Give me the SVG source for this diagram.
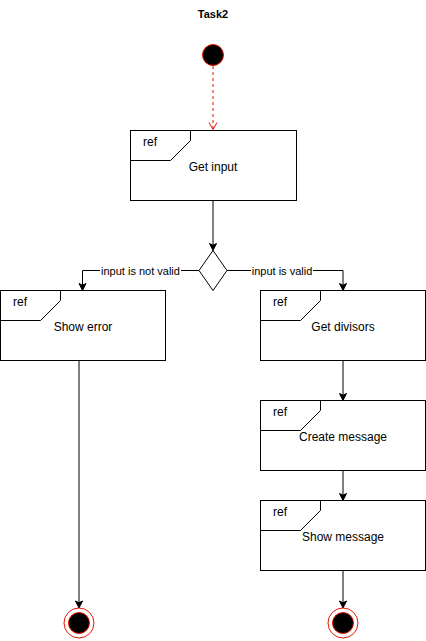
<svg xmlns="http://www.w3.org/2000/svg" width="426" height="641" viewBox="0 0 426 641">
  <style>
    .box { fill: #ffffff; stroke: #000000; stroke-width: 1; }
    .tab { fill: none; stroke: #000000; stroke-width: 1; }
    .edge { fill: none; stroke: #000000; stroke-width: 1; }
    .lbl { font-family: "Liberation Sans", Arial, sans-serif; font-size: 12px; fill: #000000; }
    .elbl { font-family: "Liberation Sans", Arial, sans-serif; font-size: 11px; fill: #000000; }
    .title { font-family: "Liberation Sans", Arial, sans-serif; font-size: 11px; font-weight: bold; fill: #000000; }
  </style>
  <defs>
    <marker id="arrow" markerUnits="userSpaceOnUse" markerWidth="20" markerHeight="20" refX="0" refY="0" orient="auto" viewBox="-10 -10 20 20" overflow="visible">
      <path d="M0,0 L-7,-3.5 L-5.3,0 L-7,3.5 Z" fill="#000000" stroke="#000000" stroke-width="1" stroke-linejoin="miter"/>
    </marker>
    <marker id="open" markerUnits="userSpaceOnUse" markerWidth="20" markerHeight="20" refX="0" refY="0" orient="auto" viewBox="-10 -10 20 20" overflow="visible">
      <path d="M-7,-4 L0,0 L-7,4" fill="none" stroke="#e51400" stroke-width="1"/>
    </marker>
  </defs>

  <rect width="426" height="641" fill="#ffffff"/>

  <text class="title" x="213" y="18" text-anchor="middle">Task2</text>

  <!-- connectors -->
  <g id="edges">
    <path class="edge" d="M213,66 V129.5" stroke="#e51400" style="stroke:#e51400" stroke-dasharray="3,3" marker-end="url(#open)"/>
    <path class="edge" d="M213,200.5 V250.5" marker-end="url(#arrow)"/>
    <path class="edge" d="M199,270.5 H82.5 V290.5" marker-end="url(#arrow)"/>
    <path class="edge" d="M227,270.5 H343 V290.5" marker-end="url(#arrow)"/>
    <path class="edge" d="M343,360.5 V400.5" marker-end="url(#arrow)"/>
    <path class="edge" d="M343,470.5 V500.5" marker-end="url(#arrow)"/>
    <path class="edge" d="M343,570.5 V608" marker-end="url(#arrow)"/>
    <path class="edge" d="M79,360.5 V608" marker-end="url(#arrow)"/>
    <rect x="100" y="263" width="81" height="13" fill="#ffffff"/>
    <text class="elbl" x="140.5" y="275" text-anchor="middle">input is not valid</text>
    <rect x="251" y="263" width="62" height="13" fill="#ffffff"/>
    <text class="elbl" x="282" y="275" text-anchor="middle">input is valid</text>
  </g>

  <!-- start -->
  <g id="start">
    <circle cx="213" cy="55" r="10.5" fill="#000000" stroke="#e51400" stroke-width="1"/>
  </g>

  <g id="get-input">
    <rect class="box" x="130.5" y="130.5" width="166" height="70"/>
    <path class="tab" d="M130.5,160.5 H170.5 L190.5,140.5 V130.5"/>
    <text class="lbl" x="143" y="146">ref</text>
    <text class="lbl" x="213" y="170.5" text-anchor="middle">Get input</text>
  </g>

  <g id="decision">
    <path d="M213,250.5 L227,270.5 L213,290.5 L199,270.5 Z" fill="#ffffff" stroke="#000000" stroke-width="1"/>
  </g>

  <g id="show-error">
    <rect class="box" x="0.5" y="290.5" width="165" height="70"/>
    <path class="tab" d="M0.5,320.5 H40.5 L60.5,300.5 V290.5"/>
    <text class="lbl" x="13" y="306">ref</text>
    <text class="lbl" x="83" y="331" text-anchor="middle">Show error</text>
  </g>

  <g id="get-divisors">
    <rect class="box" x="260.5" y="290.5" width="165" height="70"/>
    <path class="tab" d="M260.5,320.5 H300.5 L320.5,300.5 V290.5"/>
    <text class="lbl" x="273" y="306">ref</text>
    <text class="lbl" x="343" y="331" text-anchor="middle">Get divisors</text>
  </g>

  <g id="create-message">
    <rect class="box" x="260.5" y="400.5" width="165" height="70"/>
    <path class="tab" d="M260.5,430.5 H300.5 L320.5,410.5 V400.5"/>
    <text class="lbl" x="273" y="416">ref</text>
    <text class="lbl" x="343" y="441" text-anchor="middle">Create message</text>
  </g>

  <g id="show-message">
    <rect class="box" x="260.5" y="500.5" width="165" height="70"/>
    <path class="tab" d="M260.5,530.5 H300.5 L320.5,510.5 V500.5"/>
    <text class="lbl" x="273" y="516">ref</text>
    <text class="lbl" x="343" y="541" text-anchor="middle">Show message</text>
  </g>

  <g id="end-error">
    <circle cx="79" cy="623" r="15" fill="#ffffff" stroke="#e51400" stroke-width="1"/>
    <circle cx="79" cy="623" r="10.5" fill="#000000" stroke="#e51400" stroke-width="1"/>
  </g>

  <g id="end-ok">
    <circle cx="343" cy="623" r="15" fill="#ffffff" stroke="#e51400" stroke-width="1"/>
    <circle cx="343" cy="623" r="10.5" fill="#000000" stroke="#e51400" stroke-width="1"/>
  </g>
</svg>
